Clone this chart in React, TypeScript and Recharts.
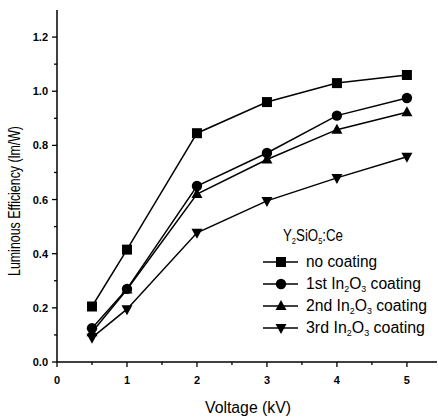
import { LineChart, Line, XAxis, YAxis } from 'recharts'

const voltages = [0.5, 1, 2, 3, 4, 5]
const noCoating = [0.205, 0.415, 0.845, 0.96, 1.03, 1.06]
const firstCoating = [0.125, 0.27, 0.65, 0.772, 0.91, 0.975]
const secondCoating = [0.11, 0.268, 0.62, 0.748, 0.858, 0.922]
const thirdCoating = [0.09, 0.195, 0.477, 0.595, 0.68, 0.758]

const xTicks = [0, 0.5, 1, 1.5, 2, 2.5, 3, 3.5, 4, 4.5, 5]
const yTicks = [0, 0.1, 0.2, 0.3, 0.4, 0.5, 0.6, 0.7, 0.8, 0.9, 1.0, 1.1, 1.2]

const series = [
  { key: 'none', values: noCoating, shape: 'square', label: 'no coating', sub: false, len: 71 },
  { key: 'c1', values: firstCoating, shape: 'circle', label: '1st', sub: true, len: 115 },
  { key: 'c2', values: secondCoating, shape: 'triangle', label: '2nd', sub: true, len: 121 },
  { key: 'c3', values: thirdCoating, shape: 'down', label: '3rd', sub: true, len: 119 },
]

const data = voltages.map((v, i) => {
  const row: Record<string, number> = { v }
  series.forEach(s => (row[s.key] = s.values[i]))
  return row
})

const FONT = '"Liberation Sans", Arial, sans-serif'

function Marker({ cx, cy, shape }: { cx: number; cy: number; shape: string }) {
  if (shape === 'square') return <rect x={cx - 5} y={cy - 5} width={10} height={10} fill="#000" />
  if (shape === 'circle') return <circle cx={cx} cy={cy} r={5.2} fill="#000" />
  if (shape === 'triangle')
    return <path d={`M${cx},${cy - 6} L${cx + 5.5},${cy + 4} L${cx - 5.5},${cy + 4} Z`} fill="#000" />
  return <path d={`M${cx},${cy + 6} L${cx + 5.5},${cy - 4} L${cx - 5.5},${cy - 4} Z`} fill="#000" />
}

function XTick(props: any) {
  const { x, y, payload } = props
  const major = Number.isInteger(payload.value)
  return (
    <g>
      <line x1={x} x2={x} y1={y} y2={y + (major ? 5 : 3)} stroke="#000" strokeWidth={1.3} />
      {major && (
        <text x={x} y={y + 22} textAnchor="middle" fontSize={11} fontWeight="bold" fontFamily={FONT} fill="#000">
          {payload.value}
        </text>
      )}
    </g>
  )
}

function YTick(props: any) {
  const { x, y, payload } = props
  const major = Math.round(payload.value * 10) % 2 === 0
  return (
    <g>
      <line x1={x} x2={x - (major ? 5 : 3)} y1={y} y2={y} stroke="#000" strokeWidth={1.3} />
      {major && (
        <text x={x - 9} y={y + 4} textAnchor="end" fontSize={11} fontWeight="bold" fontFamily={FONT} fill="#000">
          {payload.value.toFixed(1)}
        </text>
      )}
    </g>
  )
}

function LegendBox() {
  return (
    <svg width={180} height={120} style={{ position: 'absolute', left: 258, top: 220, overflow: 'visible' }}>
      <text x={25} y={21} fontSize={16} fontFamily={FONT} fill="#000" textLength={60} lengthAdjust="spacingAndGlyphs">
        Y<tspan dy={3} fontSize={9}>2</tspan>
        <tspan dy={-3}>SiO</tspan>
        <tspan dy={3} fontSize={9}>5</tspan>
        <tspan dy={-3}>:Ce</tspan>
      </text>
      {series.map((s, i) => {
        const cy = 42 + i * 22
        return (
          <g key={s.key}>
            <line x1={5} x2={40} y1={cy} y2={cy} stroke="#000" strokeWidth={1.5} />
            <Marker cx={23} cy={cy} shape={s.shape} />
            <text
              x={48}
              y={cy + 5}
              fontSize={16}
              fontFamily={FONT}
              fill="#000"
              textLength={s.len}
              lengthAdjust="spacingAndGlyphs"
            >
              {s.sub ? (
                <>
                  {s.label} In<tspan dy={3} fontSize={9}>2</tspan>
                  <tspan dy={-3}>O</tspan>
                  <tspan dy={3} fontSize={9}>3</tspan>
                  <tspan dy={-3}> coating</tspan>
                </>
              ) : (
                s.label
              )}
            </text>
          </g>
        )
      })}
    </svg>
  )
}

function XLabel() {
  return (
    <text x={248} y={413} textAnchor="middle" fontSize={16} fontFamily={FONT} fill="#000" textLength={86} lengthAdjust="spacingAndGlyphs">
      Voltage (kV)
    </text>
  )
}

function YLabel() {
  return (
    <text
      x={0}
      y={0}
      transform="translate(20,201) rotate(-90)"
      textAnchor="middle"
      fontSize={16}
      fontFamily={FONT}
      fill="#000"
      textLength={150}
      lengthAdjust="spacingAndGlyphs"
    >
      Luminous Efficiency (lm/W)
    </text>
  )
}

export default function App() {
  return (
    <div style={{ position: 'fixed', left: 0, top: 0, width: 438, height: 418, background: '#fff' }}>
      <LineChart width={438} height={418} data={data} margin={{ top: 10, right: 1, bottom: 0, left: 0 }}>
        <XAxis
          dataKey="v"
          type="number"
          domain={[0, 5.43]}
          ticks={xTicks}
          interval={0}
          height={56}
          tickSize={0}
          tickMargin={0}
          tickLine={false}
          tick={<XTick />}
          axisLine={{ stroke: '#000', strokeWidth: 1.5 }}
          label={{ content: () => <XLabel /> }}
        />
        <XAxis
          xAxisId="top"
          orientation="top"
          dataKey="v"
          type="number"
          domain={[0, 5.43]}
          height={0}
          tick={false}
          tickLine={false}
          axisLine={{ stroke: '#000', strokeWidth: 1.5 }}
        />
        <YAxis
          type="number"
          domain={[0, 1.3]}
          ticks={yTicks}
          interval={0}
          width={57}
          tickSize={0}
          tickMargin={0}
          tickLine={false}
          tick={<YTick />}
          axisLine={{ stroke: '#000', strokeWidth: 1.5 }}
          label={{ content: () => <YLabel /> }}
        />
        {series.map(s => (
          <Line
            key={s.key}
            dataKey={s.key}
            stroke="#000"
            strokeWidth={1.5}
            isAnimationActive={false}
            dot={(p: any) => <Marker key={`${s.key}-${p.index}`} cx={p.cx} cy={p.cy} shape={s.shape} />}
            activeDot={false}
          />
        ))}
      </LineChart>
      <LegendBox />
    </div>
  )
}
